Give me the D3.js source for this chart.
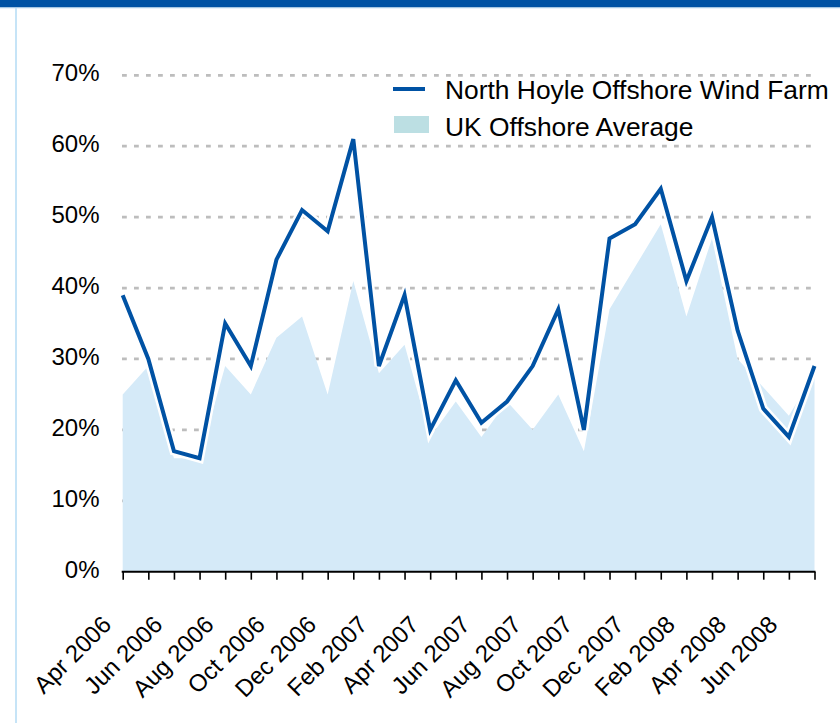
<!DOCTYPE html>
<html>
<head>
<meta charset="utf-8">
<script src="https://cdn.jsdelivr.net/npm/d3@7/dist/d3.min.js"></script>
<style>
  html, body { margin: 0; padding: 0; background: #ffffff; }
  svg { display: block; }
  text { font-family: "Liberation Sans", Arial, sans-serif; fill: #000; }
</style>
</head>
<body>
<svg id="chart" width="840" height="723"></svg>
<script>
// Monthly capacity factors, April 2006 to July 2008
const months = [
  "Apr 2006", "May 2006", "Jun 2006", "Jul 2006", "Aug 2006", "Sep 2006",
  "Oct 2006", "Nov 2006", "Dec 2006", "Jan 2007", "Feb 2007", "Mar 2007",
  "Apr 2007", "May 2007", "Jun 2007", "Jul 2007", "Aug 2007", "Sep 2007",
  "Oct 2007", "Nov 2007", "Dec 2007", "Jan 2008", "Feb 2008", "Mar 2008",
  "Apr 2008", "May 2008", "Jun 2008", "Jul 2008"
];
const northHoyle = [39, 30, 17, 16, 35, 29, 44, 51, 48, 61, 29, 39, 20, 27,
                    21, 24, 29, 37, 20, 47, 49, 54, 41, 50, 34, 23, 19, 29];
const ukAverage  = [25, 29, 16, 16, 29, 25, 33, 36, 25, 41, 28, 32, 19, 24,
                    19, 24, 20, 25, 17, 37, 43, 49, 36, 47, 30, 26, 22, 28];
const yTicks = [0, 10, 20, 30, 40, 50, 60, 70];
const seriesNames = ["North Hoyle Offshore Wind Farm", "UK Offshore Average"];

const BLUE = "#0052a4";
const AREA = "#d5eaf8";
const SWATCH = "#bcdfe3";

const svg = d3.select("#chart");

// page frame: top banner and light left rule
svg.append("rect").attr("x", 0).attr("y", 0).attr("width", 840).attr("height", 7.5).attr("fill", BLUE);
svg.append("rect").attr("x", 0).attr("y", 7.5).attr("width", 840).attr("height", 1).attr("fill", "#cfe6f6");
svg.append("rect").attr("x", 15).attr("y", 8).attr("width", 2).attr("height", 715).attr("fill", "#c6e4f7");

const x = d3.scalePoint().domain(months).range([122.7, 814.5]);
const y = d3.scaleLinear().domain([0, 70]).range([571.7, 75.3]);

// dashed horizontal gridlines
svg.append("g").selectAll("line")
  .data(yTicks.filter(d => d > 0))
  .join("line")
  .attr("x1", 122).attr("x2", 815)
  .attr("y1", d => y(d)).attr("y2", d => y(d))
  .attr("stroke", "#bdbdbd").attr("stroke-width", 2.8)
  .attr("stroke-dasharray", "4.8 7.2");

// y labels
svg.append("g").selectAll("text")
  .data(yTicks)
  .join("text")
  .attr("x", 99.5).attr("y", d => y(d) + 6)
  .attr("text-anchor", "end")
  .attr("font-size", 24)
  .text(d => d + "%");

// UK average area
const area = d3.area()
  .x((d, i) => x(months[i]))
  .y0(y(0))
  .y1(d => y(d));
svg.append("path").datum(ukAverage).attr("d", area).attr("fill", AREA);

// North Hoyle line with white halo
const line = d3.line()
  .x((d, i) => x(months[i]))
  .y(d => y(d));
svg.append("path").datum(northHoyle).attr("d", line)
  .attr("fill", "none").attr("stroke", "#ffffff").attr("stroke-width", 9)
  .attr("stroke-linejoin", "miter");
svg.append("path").datum(northHoyle).attr("d", line)
  .attr("fill", "none").attr("stroke", BLUE).attr("stroke-width", 4)
  .attr("stroke-linejoin", "miter");

// x axis
const xAxis = d3.axisBottom(x).tickSize(8).tickSizeOuter(0).tickFormat("");
const gx = svg.append("g").attr("transform", `translate(0,${y(0)})`).call(xAxis);
gx.select(".domain").attr("stroke", "#000").attr("stroke-width", 2)
  .attr("d", `M${x(months[0]) - 1},0H${x(months[months.length - 1]) + 1}`);
gx.selectAll(".tick line").attr("stroke", "#000").attr("stroke-width", 1.6);

svg.append("g").selectAll("text")
  .data(months.filter((m, i) => i % 2 === 0))
  .join("text")
  .attr("transform", d => `translate(${x(d) - 10},${626}) rotate(-45)`)
  .attr("text-anchor", "end")
  .attr("font-size", 24)
  .text(d => d);

// legend
const lg = svg.append("g");
lg.append("line").attr("x1", 393).attr("x2", 425).attr("y1", 89).attr("y2", 89)
  .attr("stroke", BLUE).attr("stroke-width", 4);
lg.append("rect").attr("x", 394).attr("y", 116).attr("width", 35).attr("height", 17)
  .attr("fill", SWATCH);
lg.selectAll("text").data(seriesNames).join("text")
  .attr("x", 445).attr("y", (d, i) => 98.5 + i * 37)
  .attr("font-size", 26.4)
  .text(d => d);
</script>
</body>
</html>
